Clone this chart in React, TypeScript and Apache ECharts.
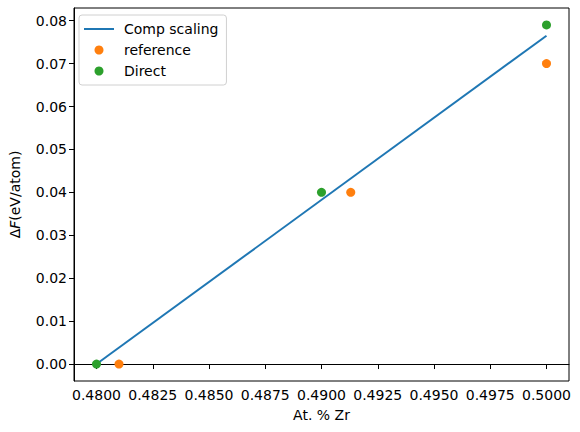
import React, { useEffect, useRef } from "react";
import * as echarts from "echarts";

const lineX = [0.48, 0.5];
const lineY = [0.0, 0.0765];
const refX = [0.481, 0.4913, 0.5];
const refY = [0.0, 0.04, 0.07];
const directX = [0.48, 0.49, 0.5];
const directY = [0.0, 0.04, 0.079];
const xTicks = [0.48, 0.4825, 0.485, 0.4875, 0.49, 0.4925, 0.495, 0.4975, 0.5];
const yTicks = [0.0, 0.01, 0.02, 0.03, 0.04, 0.05, 0.06, 0.07, 0.08];

const FONT = "DejaVu Sans";

export default function App() {
  const ref = useRef<HTMLDivElement>(null);
  useEffect(() => {
    if (!ref.current) return;
    const chart = echarts.init(ref.current, undefined, { renderer: "svg" });
    const zip = (xs: number[], ys: number[]) => xs.map((x, i) => [x, ys[i]]);
    chart.setOption({
      animation: false,
      backgroundColor: "#fff",
      textStyle: { fontFamily: FONT },
      grid: {
        left: 72,
        right: 11,
        top: 8,
        bottom: 51,
        show: true,
        borderColor: "#000",
        borderWidth: 1,
        containLabel: false,
      },
      legend: {
        left: 79,
        top: 15,
        orient: "vertical",
        itemWidth: 30,
        itemHeight: 9,
        itemGap: 7,
        padding: [7, 8, 7, 5],
        borderColor: "#d0d0d0",
        borderWidth: 1,
        borderRadius: 3,
        textStyle: { fontFamily: FONT, fontSize: 14, color: "#000", padding: [0, 0, 0, 5] },
        data: [
          { name: "Comp scaling", icon: "path://M0,0 L30,0 L30,2 L0,2 Z" },
          { name: "reference", icon: "circle" },
          { name: "Direct", icon: "circle" },
        ],
      },
      xAxis: {
        type: "value",
        min: 0.479,
        max: 0.501,
        name: "At. % Zr",
        nameLocation: "middle",
        nameGap: 27,
        nameTextStyle: { fontFamily: FONT, fontSize: 14, color: "#000" },
        splitLine: { show: false },
        axisLine: { show: true, lineStyle: { color: "#000" } },
        axisTick: {
          show: true,
          length: 5,
          lineStyle: { color: "#000" },
          customValues: xTicks,
        },
        axisLabel: {
          fontFamily: FONT,
          fontSize: 14,
          color: "#000",
          margin: 7,
          customValues: xTicks,
          formatter: (v: number) => v.toFixed(4),
        },
      },
      yAxis: {
        type: "value",
        min: -0.00395,
        max: 0.08295,
        name: "{d|Δ}{f|F}{d|(eV/atom)}",
        nameLocation: "middle",
        nameGap: 52,
        nameRotate: 90,
        nameTextStyle: {
          fontFamily: FONT,
          fontSize: 14,
          color: "#000",
          rich: {
            d: { fontFamily: FONT, fontSize: 14, color: "#000" },
            f: { fontFamily: FONT, fontSize: 14, fontStyle: "italic", color: "#000" },
          },
        },
        splitLine: { show: false },
        axisLine: { show: true, lineStyle: { color: "#000" } },
        axisTick: {
          show: true,
          length: 5,
          lineStyle: { color: "#000" },
          customValues: yTicks,
        },
        axisLabel: {
          fontFamily: FONT,
          fontSize: 14,
          color: "#000",
          margin: 7,
          customValues: yTicks,
          formatter: (v: number) => v.toFixed(2),
        },
      },
      series: [
        {
          name: "Comp scaling",
          type: "line",
          data: zip(lineX, lineY),
          symbol: "none",
          showSymbol: false,
          color: "#1f77b4",
          lineStyle: { color: "#1f77b4", width: 2 },
          z: 1,
        },
        {
          name: "reference",
          type: "scatter",
          data: zip(refX, refY),
          symbolSize: 9,
          color: "#ff7f0e",
          itemStyle: { color: "#ff7f0e", opacity: 1 },
          z: 2,
        },
        {
          name: "Direct",
          type: "scatter",
          data: zip(directX, directY),
          symbolSize: 9,
          color: "#2ca02c",
          itemStyle: { color: "#2ca02c", opacity: 1 },
          z: 3,
        },
      ],
    });
    return () => chart.dispose();
  }, []);
  return <div ref={ref} style={{ width: 580, height: 432, position: "absolute", left: 0, top: 0 }} />;
}
